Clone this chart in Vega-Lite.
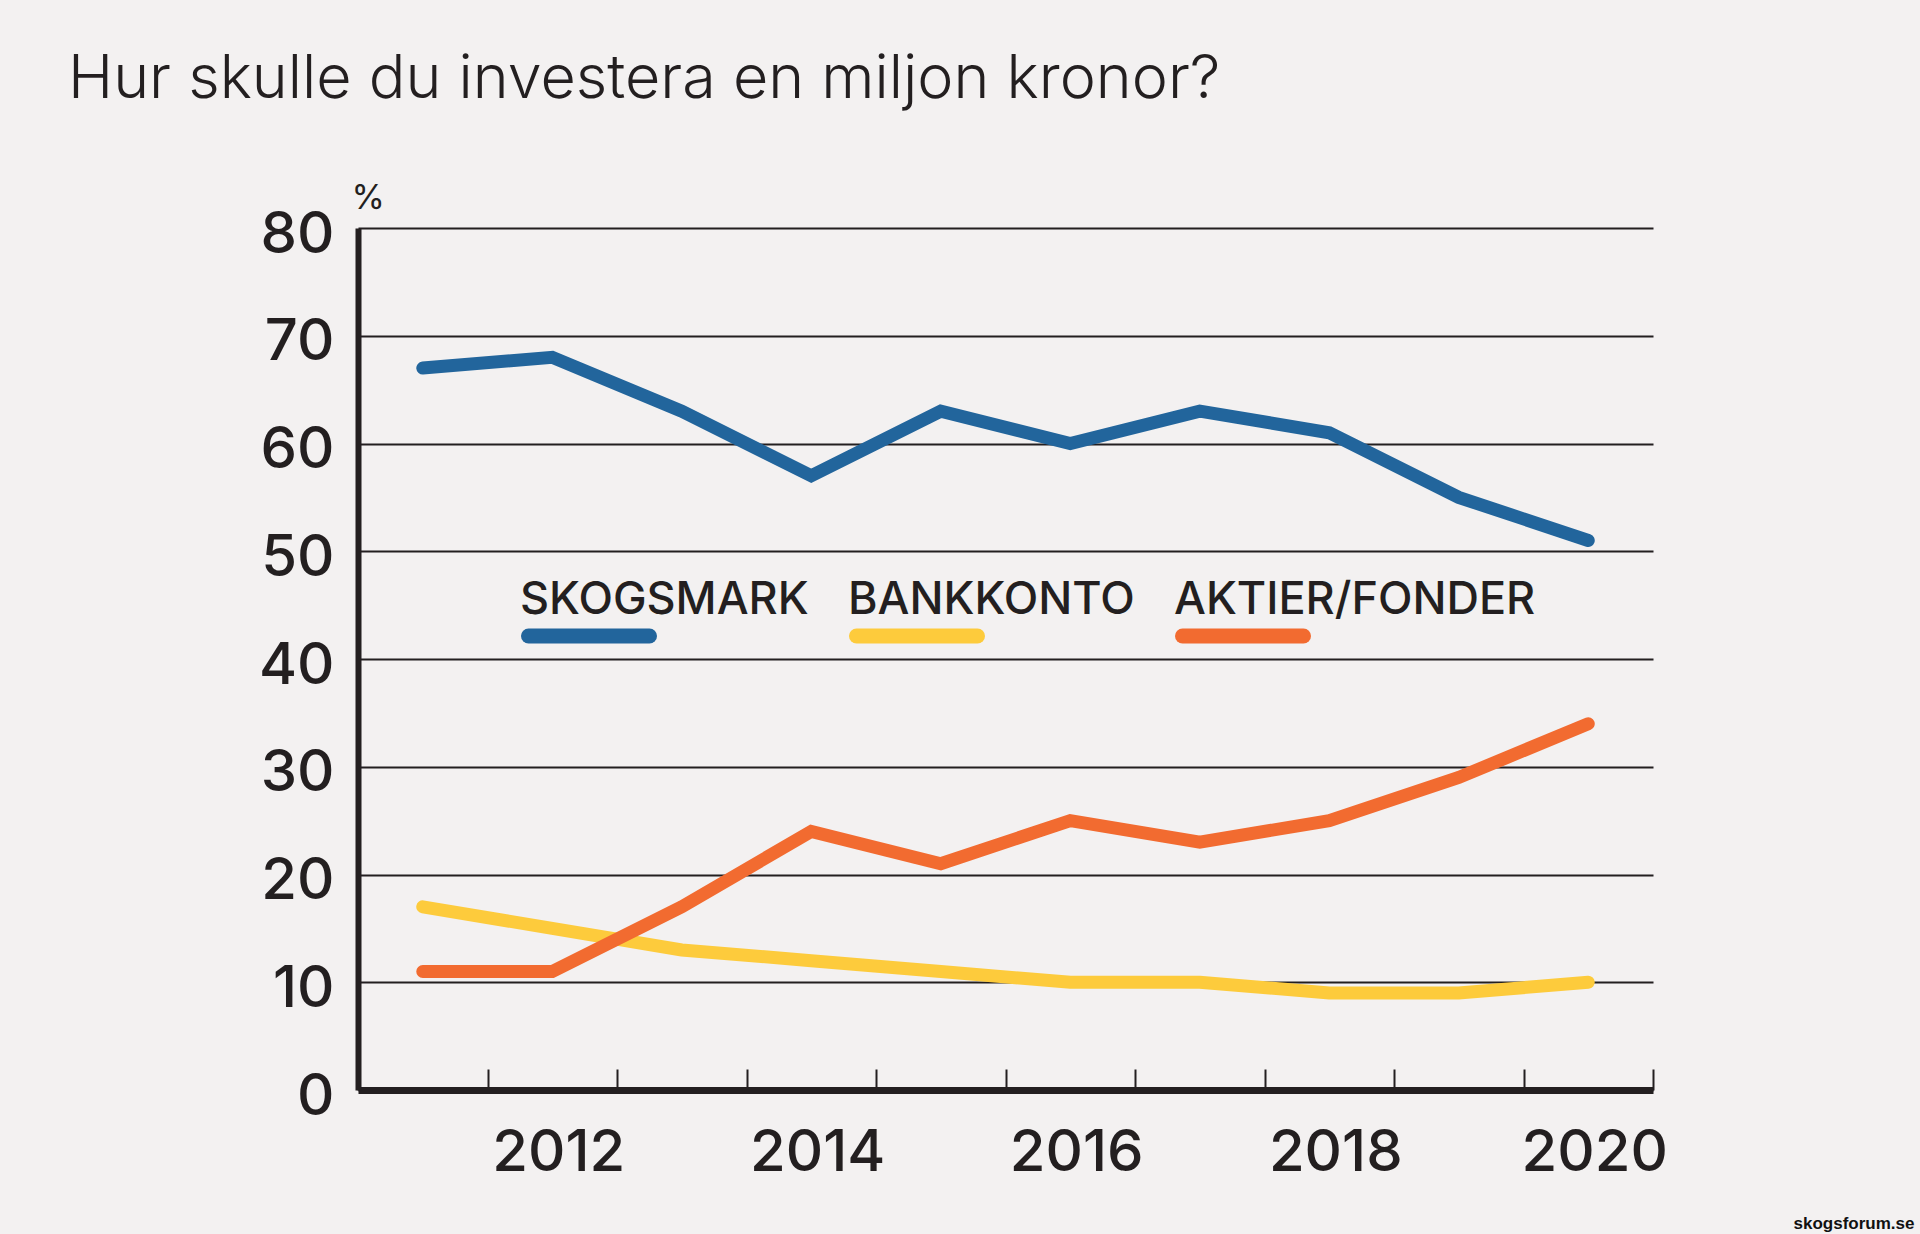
{
  "$schema": "https://vega.github.io/schema/vega-lite/v6.json",
  "description": "Hur skulle du investera en miljon kronor? Andel svar per år.",
  "width": 1295,
  "height": 862,
  "autosize": {"type": "none"},
  "padding": {"left": 358, "top": 228, "right": 267, "bottom": 144},
  "background": "#f3f1f1",
  "title": {
    "text": "Hur skulle du investera en miljon kronor?",
    "anchor": "start",
    "frame": "group",
    "font": "Inter",
    "fontSize": 61,
    "fontWeight": 300,
    "color": "#231f20",
    "dx": -290,
    "offset": 70
  },
  "data": {
    "values": [
      {"year": 2011, "series": "SKOGSMARK", "percent": 67},
      {"year": 2012, "series": "SKOGSMARK", "percent": 68},
      {"year": 2013, "series": "SKOGSMARK", "percent": 63},
      {"year": 2014, "series": "SKOGSMARK", "percent": 57},
      {"year": 2015, "series": "SKOGSMARK", "percent": 63},
      {"year": 2016, "series": "SKOGSMARK", "percent": 60},
      {"year": 2017, "series": "SKOGSMARK", "percent": 63},
      {"year": 2018, "series": "SKOGSMARK", "percent": 61},
      {"year": 2019, "series": "SKOGSMARK", "percent": 55},
      {"year": 2020, "series": "SKOGSMARK", "percent": 51},
      {"year": 2011, "series": "BANKKONTO", "percent": 17},
      {"year": 2012, "series": "BANKKONTO", "percent": 15},
      {"year": 2013, "series": "BANKKONTO", "percent": 13},
      {"year": 2014, "series": "BANKKONTO", "percent": 12},
      {"year": 2015, "series": "BANKKONTO", "percent": 11},
      {"year": 2016, "series": "BANKKONTO", "percent": 10},
      {"year": 2017, "series": "BANKKONTO", "percent": 10},
      {"year": 2018, "series": "BANKKONTO", "percent": 9},
      {"year": 2019, "series": "BANKKONTO", "percent": 9},
      {"year": 2020, "series": "BANKKONTO", "percent": 10},
      {"year": 2011, "series": "AKTIER/FONDER", "percent": 11},
      {"year": 2012, "series": "AKTIER/FONDER", "percent": 11},
      {"year": 2013, "series": "AKTIER/FONDER", "percent": 17},
      {"year": 2014, "series": "AKTIER/FONDER", "percent": 24},
      {"year": 2015, "series": "AKTIER/FONDER", "percent": 21},
      {"year": 2016, "series": "AKTIER/FONDER", "percent": 25},
      {"year": 2017, "series": "AKTIER/FONDER", "percent": 23},
      {"year": 2018, "series": "AKTIER/FONDER", "percent": 25},
      {"year": 2019, "series": "AKTIER/FONDER", "percent": 29},
      {"year": 2020, "series": "AKTIER/FONDER", "percent": 34}
    ]
  },
  "mark": {"type": "line", "strokeWidth": 13, "strokeCap": "round", "strokeJoin": "miter"},
  "encoding": {
    "x": {
      "field": "year",
      "type": "ordinal",
      "bandPosition": 0.5,
      "scale": {"type": "band", "paddingInner": 0, "paddingOuter": 0},
      "axis": {
        "title": "skogsforum.se",
        "titleFont": "Liberation Sans",
        "titleFontWeight": "bold",
        "titleFontSize": 17,
        "titleColor": "#111111",
        "titleAnchor": "end",
        "titleAlign": "right",
        "titleBaseline": "alphabetic",
        "titleX": 1556,
        "titleY": 138,
        "labelExpr": "datum.value % 2 == 0 ? datum.label : ''",
        "labelAngle": 0,
        "labelOverlap": false,
        "labelFont": "Inter",
        "labelFontSize": 58,
        "labelFontWeight": 500,
        "labelColor": "#231f20",
        "labelBaseline": "alphabetic",
        "labelPadding": 101,
        "labelOffset": 6,
        "tickBand": "extent",
        "tickSize": -21,
        "tickWidth": 2,
        "tickColor": "#231f20",
        "domainWidth": 7,
        "domainColor": "#231f20",
        "grid": false
      }
    },
    "y": {
      "field": "percent",
      "type": "quantitative",
      "scale": {"domain": [0, 80]},
      "axis": {
        "title": "%",
        "titleAngle": 0,
        "titleAlign": "left",
        "titleBaseline": "alphabetic",
        "titleX": -7,
        "titleY": -20,
        "titleFont": "Inter",
        "titleFontSize": 34,
        "titleFontWeight": 400,
        "titleColor": "#231f20",
        "values": [0, 10, 20, 30, 40, 50, 60, 70, 80],
        "ticks": false,
        "grid": true,
        "gridColor": "#231f20",
        "gridWidth": 2,
        "gridOpacity": 1,
        "domainWidth": 6,
        "domainColor": "#231f20",
        "labelFont": "Inter",
        "labelFontSize": 58,
        "labelFontWeight": 500,
        "labelColor": "#231f20",
        "labelPadding": 24,
        "labelOffset": 7
      }
    },
    "color": {
      "field": "series",
      "type": "nominal",
      "sort": ["SKOGSMARK", "BANKKONTO", "AKTIER/FONDER"],
      "scale": {
        "domain": ["SKOGSMARK", "BANKKONTO", "AKTIER/FONDER"],
        "range": ["#22659c", "#fdcb3c", "#f26b30"]
      },
      "legend": {
        "orient": "none",
        "direction": "horizontal",
        "title": null,
        "legendX": 163,
        "legendY": 340,
        "padding": 0,
        "symbolType": "stroke",
        "symbolSize": 14641,
        "symbolStrokeWidth": 15,
        "labelFont": "Inter",
        "labelFontSize": 45,
        "labelFontWeight": 500,
        "labelColor": "#231f20",
        "labelOffset": -137,
        "labelLimit": 0,
        "columnPadding": 17,
        "encoding": {
          "labels": {"dy": {"value": -36}},
          "symbols": {"strokeCap": {"value": "round"}}
        }
      }
    }
  },
  "config": {
    "view": {"stroke": null},
    "font": "Inter"
  }
}
